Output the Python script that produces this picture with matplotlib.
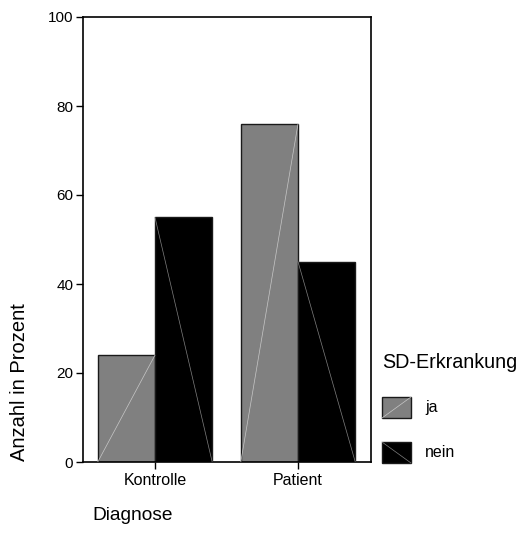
import numpy as np
import matplotlib.pyplot as plt
from matplotlib.patches import Rectangle
from matplotlib.lines import Line2D

plt.rcParams['font.family'] = ['Liberation Sans', 'DejaVu Sans']

# Daten
diagnose = ['Kontrolle', 'Patient']
gruppen = ['ja', 'nein']
werte_ja = [24, 76]
werte_nein = [55, 45]
farben = ['#808080', '#000000']
diag_farben = ['#c8c8c8', '#808080']
yticks = [0, 20, 40, 60, 80, 100]

W, H = 522, 540
fig = plt.figure(figsize=(W / 100, H / 100), dpi=100)
ax = fig.add_axes([83 / W, 1 - 462 / H, (371 - 83) / W, (462 - 17) / H])

x = np.arange(1, len(diagnose) + 1)
breite = 0.4
serien = [werte_ja, werte_nein]
for k, (werte, farbe, dfarbe) in enumerate(zip(serien, farben, diag_farben)):
    offs = -breite / 2 if k == 0 else breite / 2
    bars = ax.bar(x + offs, werte, breite, color=farbe, edgecolor='#1a1a1a',
                  linewidth=1.0, zorder=2)
    for b in bars:
        x0, x1 = b.get_x(), b.get_x() + b.get_width()
        h = b.get_height()
        if k == 0:
            ax.plot([x0, x1], [0, h], color=dfarbe, lw=0.5, zorder=3)
        else:
            ax.plot([x0, x1], [h, 0], color=dfarbe, lw=0.5, zorder=3)

ax.set_xlim(0.497, 2.51)
ax.set_ylim(0, 100)
ax.set_yticks(yticks)
ax.set_xticks(x)
ax.set_xticklabels(diagnose)
ax.tick_params(direction='out', length=5, width=1, colors='black')
ax.tick_params(axis='y', pad=2, labelsize=11)
ax.tick_params(axis='x', pad=3, labelsize=11.5)
for s in ax.spines.values():
    s.set_linewidth(1.2)

fig.text(20 / W, 1 - 382 / H, 'Anzahl in Prozent', rotation=90, fontsize=14.5,
         ha='center', va='center')
fig.text(92 / W, 1 - 515 / H, 'Diagnose', fontsize=13.8, ha='left', va='center')

# Legende
fig.text(382 / W, 1 - 368 / H, 'SD-Erkrankung', fontsize=14.2, ha='left', va='baseline')
legende_y = [397, 442]
for name, farbe, dfarbe, ly in zip(gruppen, farben, diag_farben, legende_y):
    x0, x1 = 382 / W, 411 / W
    y0, y1 = 1 - (ly + 21) / H, 1 - ly / H
    fig.patches.append(Rectangle((x0, y0), x1 - x0, y1 - y0, transform=fig.transFigure,
                                 facecolor=farbe, edgecolor='#1a1a1a', lw=1.0))
    if name == 'ja':
        fig.lines.append(Line2D([x0, x1], [y0, y1], transform=fig.transFigure,
                                color=dfarbe, lw=0.5))
    else:
        fig.lines.append(Line2D([x0, x1], [y1, y0], transform=fig.transFigure,
                                color=dfarbe, lw=0.5))
    fig.text(425 / W, (y0 + y1) / 2, name, fontsize=11.5, ha='left', va='center')

fig.savefig('out.png', dpi=100)
